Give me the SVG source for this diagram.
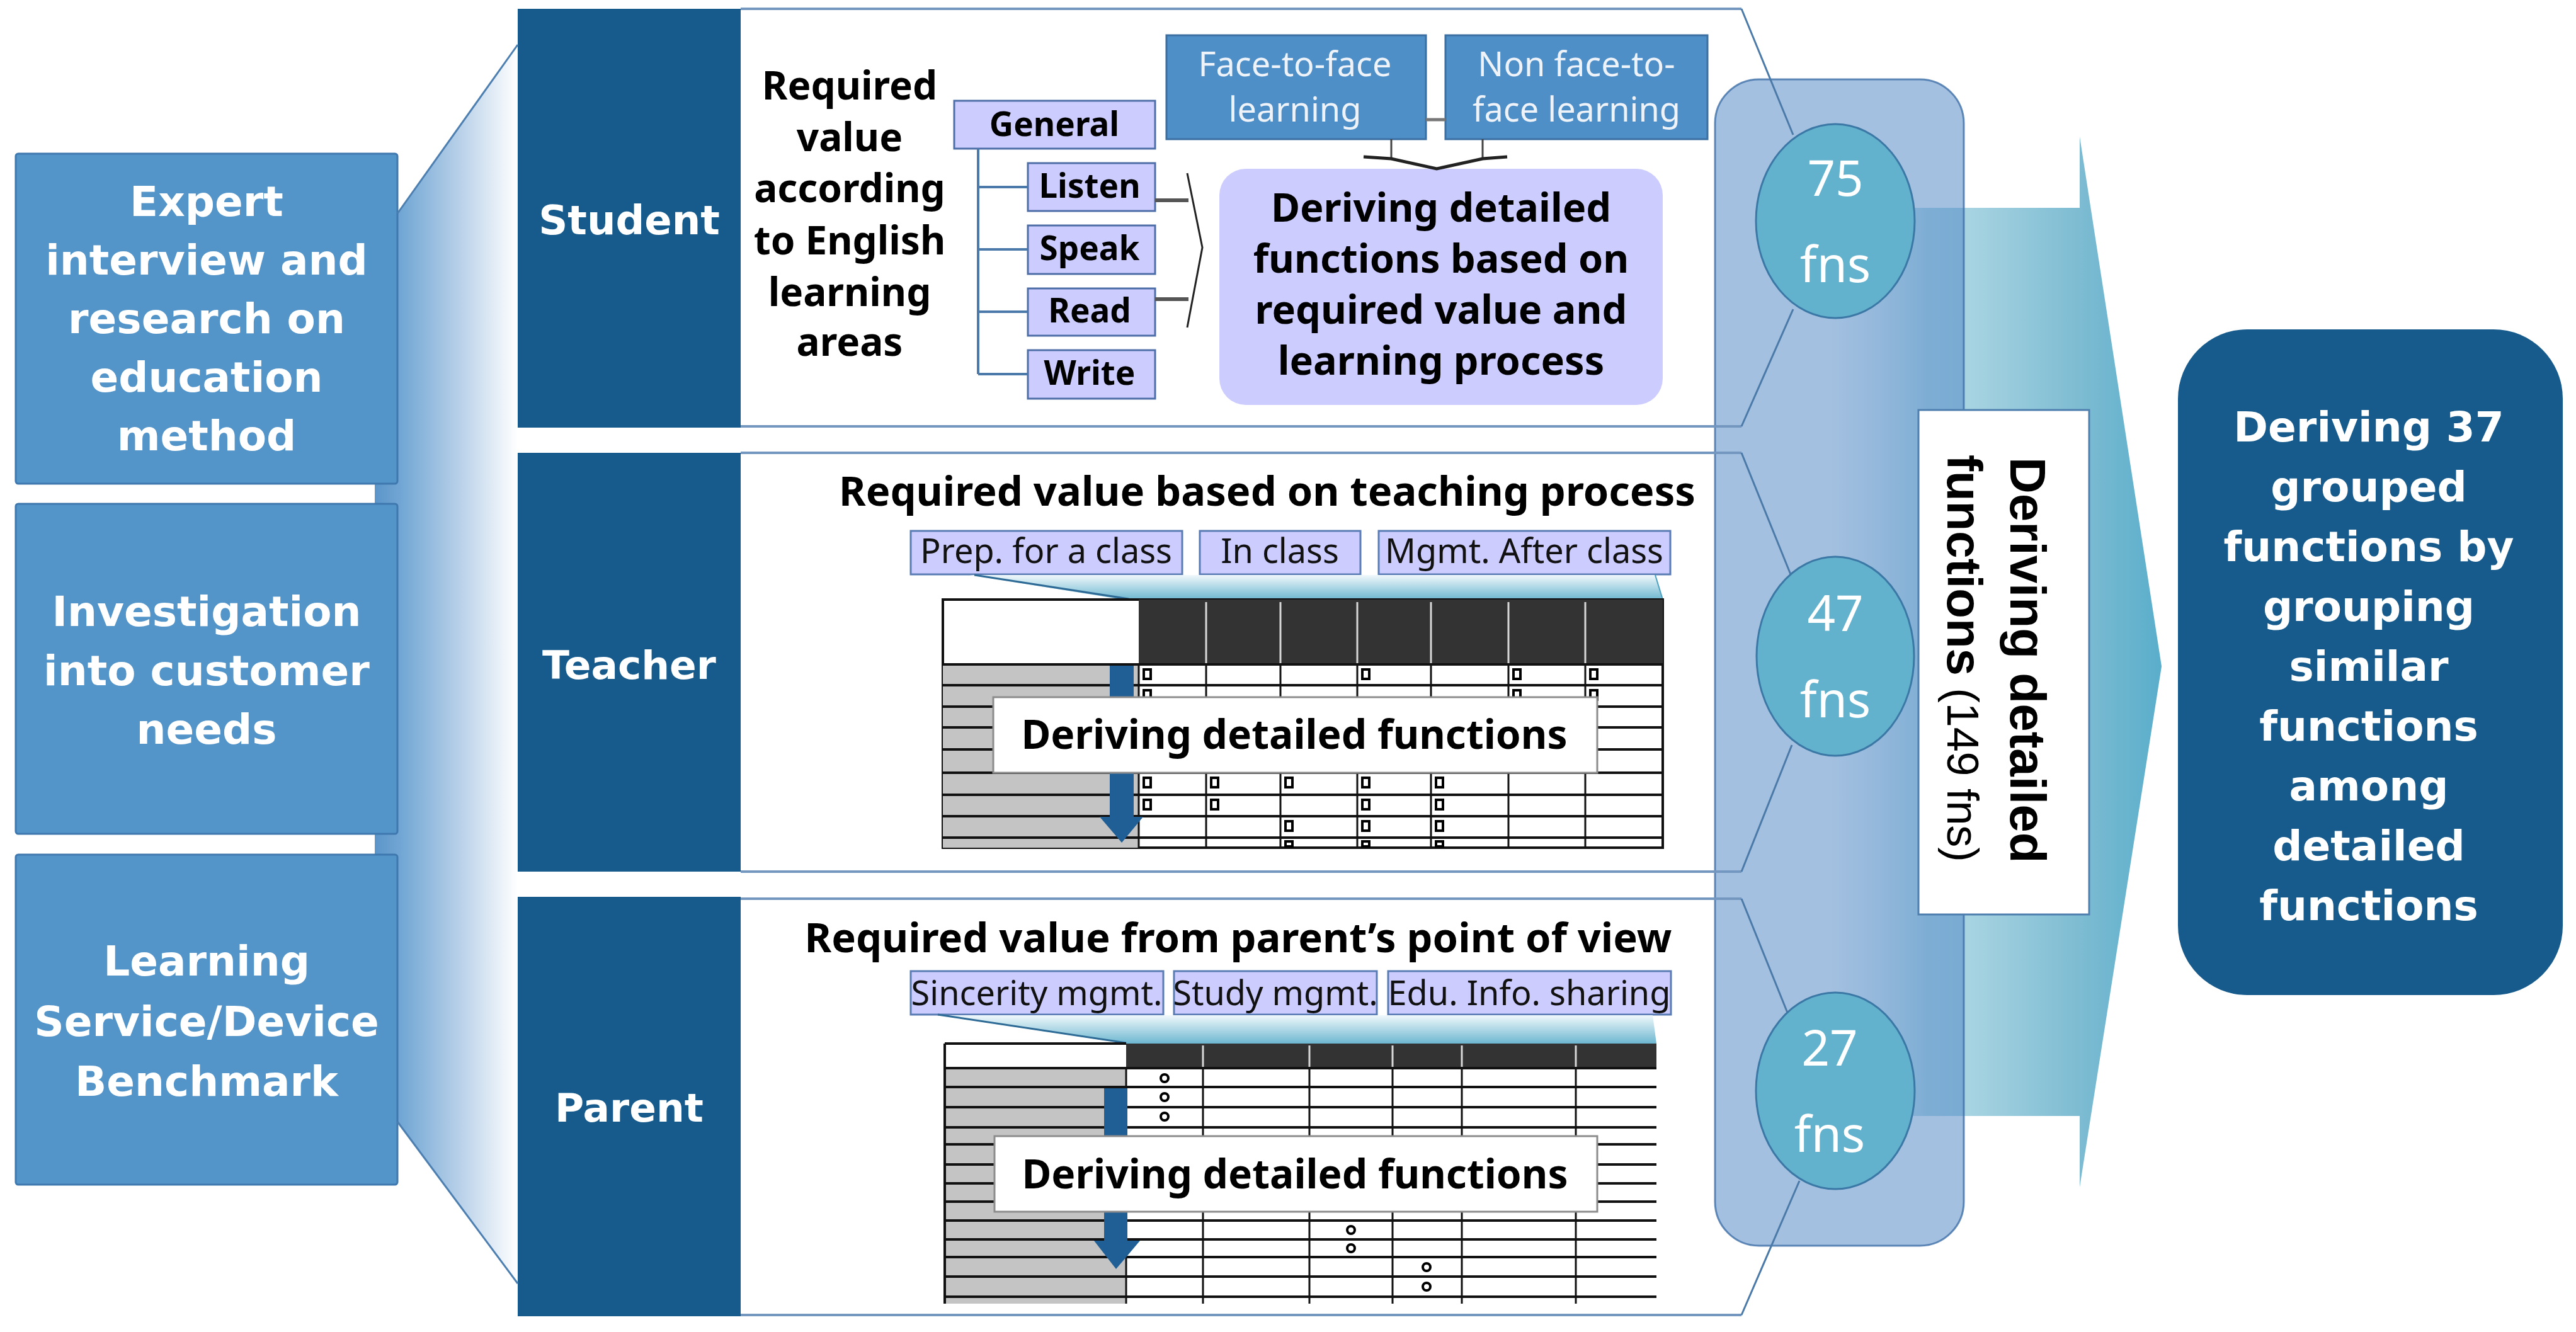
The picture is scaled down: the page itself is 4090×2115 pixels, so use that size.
<svg xmlns="http://www.w3.org/2000/svg" width="4090" height="2115" viewBox="0 0 4090 2115">
<defs>
<linearGradient id="gFunnel" gradientUnits="userSpaceOnUse" x1="595" y1="0" x2="822" y2="0">
<stop offset="0" stop-color="#5b95c9"/>
<stop offset="0.2" stop-color="#74a8d5"/>
<stop offset="0.6" stop-color="#b9d1e9"/>
<stop offset="1" stop-color="#ffffff"/>
</linearGradient>
<linearGradient id="gArrow" gradientUnits="userSpaceOnUse" x1="2900" y1="0" x2="3432" y2="0">
<stop offset="0" stop-color="#c8e4ee" stop-opacity="0"/>
<stop offset="0.3" stop-color="#b2d9e6"/>
<stop offset="0.42" stop-color="#a8d4e2"/>
<stop offset="0.75" stop-color="#7ebcd2"/>
<stop offset="1" stop-color="#5aaecb"/>
</linearGradient>
<linearGradient id="gTeal" x1="0" y1="0" x2="0" y2="1">
<stop offset="0" stop-color="#f0f8fb"/>
<stop offset="1" stop-color="#6db7d0"/>
</linearGradient>
</defs>
<style>
.src{fill:#5394c9;stroke:#3f78ae;stroke-width:3}
.dark{fill:#165b8c}
.pfill{fill:#ffffff}
.pline{fill:none;stroke:#7397bf;stroke-width:4}
.diag{fill:none;stroke:#4b7aa8;stroke-width:3}
.lav{fill:#ccccff;stroke:#4e6ea8;stroke-width:3}
.chip{fill:#ccccff;stroke:#5a7cb4;stroke-width:3}
.f2f{fill:#4f8fc7;stroke:#3b6fa2;stroke-width:3}
.circ{fill:#62b2ce;stroke:#3b78a5;stroke-width:3}
.wbox{fill:#ffffff;stroke:#8c8c8c;stroke-width:3}
.tline{fill:none;stroke:#4b79a9;stroke-width:4}
.grid{stroke:#111;stroke-width:4}
.vgrid{stroke:#111;stroke-width:3}
.hsep{stroke:#d8d8d8;stroke-width:3}
.mk{fill:#fff;stroke:#000;stroke-width:4}
.arr{fill:#1f5f96}
.dv{font-family:"DejaVu Sans",sans-serif;font-weight:bold;fill:#ffffff;text-anchor:middle}
.nb{font-family:"Noto Sans","Liberation Sans",sans-serif;font-weight:bold;fill:#000;text-anchor:middle}
.nr{font-family:"Noto Sans","Liberation Sans",sans-serif;fill:#111;text-anchor:middle}
.lt{font-family:"Noto Sans","Liberation Sans",sans-serif;fill:#eef3fa;text-anchor:middle;font-size:54px}
.ct{font-family:"Noto Sans","Liberation Sans",sans-serif;fill:#ffffff;text-anchor:middle;font-size:78px}
</style>

<g id="funnel-left">
<polygon points="595,339 631,339 822,71 822,2038 631,1781 595,1781" fill="url(#gFunnel)"/>
</g>

<g id="src-expert">
<rect class="src" x="25" y="244" width="606" height="524" rx="4"/>
<text class="dv" font-size="66" x="328"><tspan x="328" y="343">Expert</tspan><tspan x="328" y="436">interview and</tspan><tspan x="328" y="529">research on</tspan><tspan x="328" y="622">education</tspan><tspan x="328" y="715">method</tspan></text>
</g>
<g id="src-customer">
<rect class="src" x="25" y="800" width="606" height="524" rx="4"/>
<text class="dv" font-size="66" x="328"><tspan x="328" y="994">Investigation</tspan><tspan x="328" y="1088">into customer</tspan><tspan x="328" y="1181">needs</tspan></text>
</g>
<g id="src-benchmark">
<rect class="src" x="25" y="1357" width="606" height="524" rx="4"/>
<text class="dv" font-size="66" x="328"><tspan x="328" y="1549">Learning</tspan><tspan x="328" y="1645">Service/Device</tspan><tspan x="328" y="1740">Benchmark</tspan></text>
</g>

<g id="big-arrow">
<polygon points="2900,330 3302,330 3302,217 3432,1058 3302,1885 3302,1772 2900,1772" fill="url(#gArrow)"/>
</g>

<g id="panel-fills">
<path class="pfill" d="M1176,14 H2765 L2847,214 L2847,491 L2765,677 H1176 Z"/>
<path class="pfill" d="M1176,719 H2765 L2843,912 L2845,1183 L2765,1384 H1176 Z"/>
<path class="pfill" d="M1176,1427 H2765 L2838,1608 L2857,1875 L2765,2088 H1176 Z"/>
</g>

<g id="student-panel">
<rect class="dark" x="822" y="14" width="354" height="665"/>
<text class="dv" font-size="64" x="999" y="372">Student</text>
<text class="nb" font-size="62"><tspan x="1349" y="158">Required</tspan><tspan x="1349" y="240">value</tspan><tspan x="1349" y="321">according</tspan><tspan x="1349" y="404">to English</tspan><tspan x="1349" y="486">learning</tspan><tspan x="1349" y="565">areas</tspan></text>
<rect class="lav" x="1515" y="160" width="319" height="76"/>
<text class="nb" font-size="53" x="1674" y="216">General</text>
<rect class="lav" x="1632" y="259" width="202" height="76"/>
<text class="nb" font-size="53" x="1730" y="314">Listen</text>
<rect class="lav" x="1632" y="358" width="202" height="77"/>
<text class="nb" font-size="53" x="1730" y="413">Speak</text>
<rect class="lav" x="1632" y="458" width="202" height="75"/>
<text class="nb" font-size="53" x="1730" y="512">Read</text>
<rect class="lav" x="1632" y="556" width="202" height="77"/>
<text class="nb" font-size="53" x="1730" y="611">Write</text>
<rect class="f2f" x="1852" y="56" width="412" height="165"/>
<text class="lt"><tspan x="2056" y="121">Face-to-face</tspan><tspan x="2056" y="193">learning</tspan></text>
<rect class="f2f" x="2295" y="56" width="416" height="165"/>
<text class="lt"><tspan x="2503" y="121">Non face-to-</tspan><tspan x="2503" y="193">face learning</tspan></text>
<rect x="1936" y="268" width="704" height="375" rx="42" fill="#ccccff"/>
<text class="nb" font-size="63"><tspan x="2288" y="352">Deriving detailed</tspan><tspan x="2288" y="433">functions based on</tspan><tspan x="2288" y="514">required value and</tspan><tspan x="2288" y="595">learning process</tspan></text>
</g>

<g id="teacher-panel">
<rect class="dark" x="822" y="719" width="354" height="665"/>
<text class="dv" font-size="63" x="999" y="1078">Teacher</text>
<text class="nb" font-size="65" x="2012" y="803">Required value based on teaching process</text>
<rect class="chip" x="1446" y="843" width="431" height="69"/>
<text class="nr" font-size="54" x="1661" y="894">Prep. for a class</text>
<rect class="chip" x="1905" y="843" width="255" height="69"/>
<text class="nr" font-size="54" x="2032" y="894">In class</text>
<rect class="chip" x="2189" y="843" width="463" height="69"/>
<text class="nr" font-size="54" x="2420" y="894">Mgmt. After class</text>
<polygon points="1540,913 2628,913 2640,952 1783,952" fill="url(#gTeal)"/>
<line x1="1547" y1="913" x2="1792" y2="951" stroke="#2d6a96" stroke-width="3"/>
<line x1="2628" y1="913" x2="2640" y2="952" stroke="#4aa0c0" stroke-width="2"/>
<g id="teacher-table">
<rect x="1497" y="952" width="1143" height="394" fill="#fff" stroke="#111" stroke-width="4"/>
<rect x="1808" y="952" width="832" height="103" fill="#333"/>
<rect x="1497" y="1055" width="311" height="291" fill="#c4c4c4"/>
<g class="hsep"><line x1="1915" y1="956" x2="1915" y2="1053"/><line x1="2033" y1="956" x2="2033" y2="1053"/><line x1="2155" y1="956" x2="2155" y2="1053"/><line x1="2272" y1="956" x2="2272" y2="1053"/><line x1="2395" y1="956" x2="2395" y2="1053"/><line x1="2517" y1="956" x2="2517" y2="1053"/></g>
<g class="grid"><line x1="1497" y1="1055" x2="2640" y2="1055"/><line x1="1497" y1="1088" x2="2640" y2="1088"/><line x1="1497" y1="1122" x2="2640" y2="1122"/><line x1="1497" y1="1155" x2="2640" y2="1155"/><line x1="1497" y1="1190" x2="2640" y2="1190"/><line x1="1497" y1="1227" x2="2640" y2="1227"/><line x1="1497" y1="1262" x2="2640" y2="1262"/><line x1="1497" y1="1296" x2="2640" y2="1296"/><line x1="1497" y1="1330" x2="2640" y2="1330"/></g>
<g class="vgrid"><line x1="1808" y1="1055" x2="1808" y2="1346"/><line x1="1915" y1="1055" x2="1915" y2="1346"/><line x1="2033" y1="1055" x2="2033" y2="1346"/><line x1="2155" y1="1055" x2="2155" y2="1346"/><line x1="2272" y1="1055" x2="2272" y2="1346"/><line x1="2395" y1="1055" x2="2395" y2="1346"/><line x1="2517" y1="1055" x2="2517" y2="1346"/></g>
<g class="mk">
<rect x="1816" y="1063" width="11" height="15"/><rect x="2163" y="1063" width="11" height="15"/><rect x="2403" y="1063" width="11" height="15"/><rect x="2525" y="1063" width="11" height="15"/>
<rect x="1816" y="1096" width="11" height="15"/><rect x="2403" y="1096" width="11" height="15"/><rect x="2525" y="1096" width="11" height="15"/>
<rect x="1816" y="1235" width="11" height="15"/><rect x="1923" y="1235" width="11" height="15"/><rect x="2041" y="1235" width="11" height="15"/><rect x="2163" y="1235" width="11" height="15"/><rect x="2280" y="1235" width="11" height="15"/>
<rect x="1816" y="1270" width="11" height="15"/><rect x="1923" y="1270" width="11" height="15"/><rect x="2163" y="1270" width="11" height="15"/><rect x="2280" y="1270" width="11" height="15"/>
<rect x="2041" y="1304" width="11" height="15"/><rect x="2163" y="1304" width="11" height="15"/><rect x="2280" y="1304" width="11" height="15"/>
<rect x="2041" y="1336" width="11" height="8"/><rect x="2163" y="1336" width="11" height="8"/><rect x="2280" y="1336" width="11" height="8"/>
</g>
<path class="arr" d="M1762,1057 H1800 V1297 H1815 L1781,1338 L1746,1297 H1762 Z"/>
</g>
<rect class="wbox" x="1577" y="1107" width="959" height="120"/>
<text class="nb" font-size="64" x="2055" y="1189">Deriving detailed functions</text>
</g>

<g id="parent-panel">
<rect class="dark" x="822" y="1424" width="354" height="666"/>
<text class="dv" font-size="63" x="999" y="1781">Parent</text>
<text class="nb" font-size="65" x="1966" y="1512">Required value from parent’s point of view</text>
<rect class="chip" x="1446" y="1542" width="401" height="69"/>
<text class="nr" font-size="54" x="1646" y="1596">Sincerity mgmt.</text>
<rect class="chip" x="1864" y="1542" width="322" height="69"/>
<text class="nr" font-size="54" x="2025" y="1596">Study mgmt.</text>
<rect class="chip" x="2204" y="1542" width="449" height="69"/>
<text class="nr" font-size="54" x="2428" y="1596">Edu. Info. sharing</text>
<polygon points="1489,1612 2624,1612 2630,1657 1788,1657" fill="url(#gTeal)"/>
<line x1="1489" y1="1611" x2="1788" y2="1656" stroke="#2d6a96" stroke-width="3"/>
<g id="parent-table">
<rect x="1500" y="1657" width="1130" height="413" fill="#fff"/>
<rect x="1788" y="1657" width="842" height="39" fill="#333"/>
<rect x="1500" y="1696" width="288" height="374" fill="#c4c4c4"/>
<line x1="1500" y1="1657" x2="1788" y2="1657" stroke="#111" stroke-width="4"/>
<line x1="1500" y1="1657" x2="1500" y2="2070" stroke="#111" stroke-width="4"/>
<g class="hsep"><line x1="1910" y1="1660" x2="1910" y2="1694"/><line x1="2079" y1="1660" x2="2079" y2="1694"/><line x1="2211" y1="1660" x2="2211" y2="1694"/><line x1="2321" y1="1660" x2="2321" y2="1694"/><line x1="2502" y1="1660" x2="2502" y2="1694"/></g>
<g class="grid"><line x1="1500" y1="1696" x2="2630" y2="1696"/><line x1="1500" y1="1726" x2="2630" y2="1726"/><line x1="1500" y1="1758" x2="2630" y2="1758"/><line x1="1500" y1="1790" x2="2630" y2="1790"/><line x1="1500" y1="1817" x2="2630" y2="1817"/><line x1="1500" y1="1849" x2="2630" y2="1849"/><line x1="1500" y1="1879" x2="2630" y2="1879"/><line x1="1500" y1="1908" x2="2630" y2="1908"/><line x1="1500" y1="1938" x2="2630" y2="1938"/><line x1="1500" y1="1968" x2="2630" y2="1968"/><line x1="1500" y1="1996" x2="2630" y2="1996"/><line x1="1500" y1="2027" x2="2630" y2="2027"/><line x1="1500" y1="2059" x2="2630" y2="2059"/></g>
<g class="vgrid"><line x1="1788" y1="1696" x2="1788" y2="2070"/><line x1="1910" y1="1696" x2="1910" y2="2070"/><line x1="2079" y1="1696" x2="2079" y2="2070"/><line x1="2211" y1="1696" x2="2211" y2="2070"/><line x1="2321" y1="1696" x2="2321" y2="2070"/><line x1="2502" y1="1696" x2="2502" y2="2070"/></g>
<g class="mk">
<circle cx="1849" cy="1712" r="6"/><circle cx="1849" cy="1742" r="6"/><circle cx="1849" cy="1773" r="6"/>
<circle cx="2145" cy="1953" r="6"/><circle cx="2145" cy="1982" r="6"/>
<circle cx="2265" cy="2012" r="6"/><circle cx="2265" cy="2043" r="6"/>
</g>
<path class="arr" d="M1753,1728 H1790 V1970 H1810 L1772,2015 L1737,1970 H1753 Z"/>
</g>
<rect class="wbox" x="1579" y="1804" width="957" height="120"/>
<text class="nb" font-size="64" x="2056" y="1887">Deriving detailed functions</text>
</g>

<g id="column-detailed">
<rect x="2723" y="126" width="395" height="1852" rx="70" fill="#4a82c2" fill-opacity="0.5" stroke="#3f6fa8" stroke-opacity="0.8" stroke-width="3"/>
</g>

<g id="connectors">
<path class="pline" d="M1176,14 H2765 M2765,677 H1176 M1176,719 H2765 M2765,1384 H1176 M1176,1427 H2765 M2765,2088 H1176"/>
<path class="diag" d="M2765,14 L2847,214 M2847,491 L2765,677 M2765,719 L2843,912 M2845,1183 L2765,1384 M2765,1427 L2838,1608 M2857,1875 L2765,2088"/>
<path fill="none" stroke="#4d7fb0" stroke-width="3" d="M631,339 L822,71 M631,1781 L822,2038"/>
<path class="tline" d="M1553,236 V594 M1553,297 H1632 M1553,396 H1632 M1553,495 H1632 M1553,594 H1632"/>
<path fill="none" stroke="#555" stroke-width="6" d="M1834,318 H1887 M1834,475 H1887"/>
<path fill="none" stroke="#222" stroke-width="3" d="M1885,275 L1909,393 L1885,520"/>
<line x1="2264" y1="190" x2="2295" y2="190" stroke="#777" stroke-width="5"/>
<path fill="none" stroke="#444" stroke-width="3" d="M2209,221 V252 M2354,221 V252"/>
<path fill="none" stroke="#222" stroke-width="5" d="M2165,249 L2209,252 L2281,268 L2354,252 L2393,249"/>
</g>

<g id="count-student">
<ellipse class="circ" cx="2914" cy="351" rx="126" ry="154"/>
<text class="ct" x="2914" y="311">75</text>
<text class="ct" x="2914" y="448">fns</text>
</g>
<g id="count-teacher">
<ellipse class="circ" cx="2914" cy="1042" rx="125" ry="158"/>
<text class="ct" x="2914" y="1002">47</text>
<text class="ct" x="2914" y="1139">fns</text>
</g>
<g id="count-parent">
<ellipse class="circ" cx="2914" cy="1732" rx="126" ry="156"/>
<text class="ct" x="2905" y="1692">27</text>
<text class="ct" x="2905" y="1829">fns</text>
</g>

<g id="total-box">
<rect x="3046" y="651" width="271" height="801" fill="#ffffff" stroke="#4f7fae" stroke-width="3"/>
<text transform="translate(3192,726) rotate(90)" font-family="'Liberation Sans',Arial,sans-serif" font-weight="bold" font-size="80" fill="#000">Deriving detailed</text>
<text transform="translate(3092,722) rotate(90)" font-family="'Liberation Sans',Arial,sans-serif" font-size="78" fill="#000"><tspan font-weight="bold">functions</tspan><tspan font-size="70"> (149 fns)</tspan></text>
</g>

<g id="result-box">
<rect x="3458" y="523" width="611" height="1057" rx="110" fill="#165b8c"/>
<text class="dv" font-size="66"><tspan x="3761" y="701">Deriving 37</tspan><tspan x="3761" y="796">grouped</tspan><tspan x="3761" y="891">functions by</tspan><tspan x="3761" y="986">grouping</tspan><tspan x="3761" y="1081">similar</tspan><tspan x="3761" y="1176">functions</tspan><tspan x="3761" y="1271">among</tspan><tspan x="3761" y="1366">detailed</tspan><tspan x="3761" y="1461">functions</tspan></text>
</g>
</svg>
